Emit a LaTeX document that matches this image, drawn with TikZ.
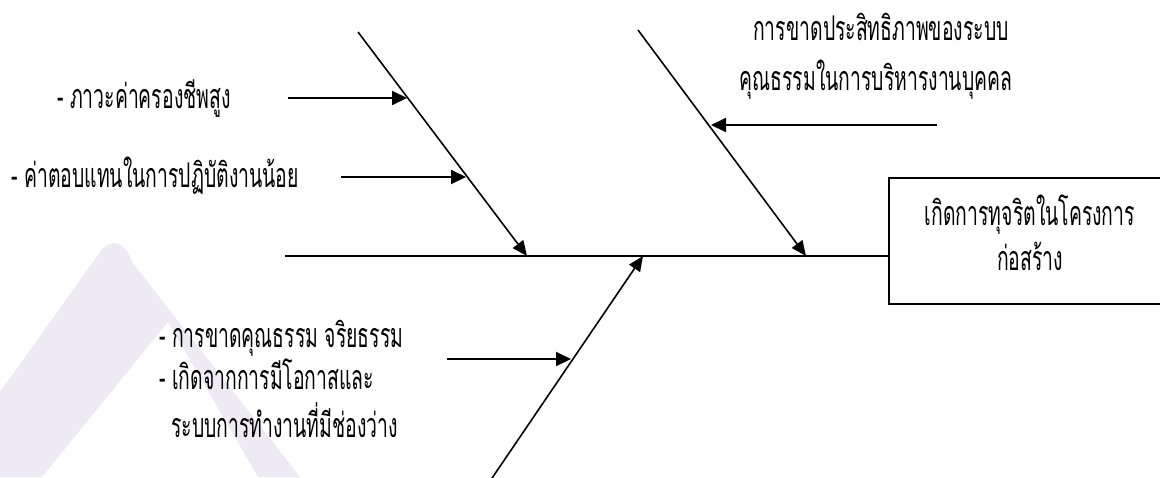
\documentclass[tikz,border=0pt]{standalone}
\usepackage{fontspec}
\newfontfamily\thaitext[Script=Thai,FakeStretch=0.57]{Loma}
\usetikzlibrary{arrows.meta}
\definecolor{wm}{RGB}{238,234,244}
\begin{document}
\begin{tikzpicture}[x=1pt,y=-1pt,
  lbl/.style={inner sep=0pt, font=\thaitext\fontsize{34}{38}\selectfont},
  bone/.style={line width=1.6pt, -{Triangle[length=15pt,width=13pt]}},
  cause/.style={line width=2pt, -{Triangle[length=15pt,width=14pt]}},
  effect/.style={draw, line width=2pt, inner sep=0pt, minimum width=284pt, minimum height=126pt, anchor=north west}
]
\useasboundingbox (0,0) rectangle (1160,477);
\clip (0,0) rectangle (1160,477);
% watermark
\fill[wm] (0,392) -- (100,252) .. controls (110,238) and (125,240) .. (132,262) -- (300,477) -- (258,477) -- (168,322) -- (42,477) -- (0,477) -- cycle;

% effect box
\node[effect] (box) at (888,177) {};
\node[lbl, anchor=base] (e1) at (1030,225) {เกิดการทุจริตในโครงการ};
\node[lbl, anchor=base] (e2) at (1030,270) {ก่อสร้าง};

% spine
\coordinate (sp) at (285,256);
\draw[line width=1.6pt] (sp) -- (sp -| box.west);

% bones
\coordinate (b1s) at (358,32);  \coordinate (b1e) at (527,256);
\coordinate (b2s) at (638,30);  \coordinate (b2e) at (806,256);
\coordinate (b3s) at (488,484); \coordinate (b3e) at (643,256);
\draw[bone] (b1s) -- (b1e);
\draw[bone] (b2s) -- (b2e);
\draw[bone] (b3s) -- (b3e);

% cause arrows
\coordinate (a1s) at (288,98);  \coordinate (a1e) at (407,98);
\coordinate (a2s) at (341,177); \coordinate (a2e) at (466,177);
\coordinate (a3s) at (937,125); \coordinate (a3e) at (711,125);
\coordinate (a4s) at (447,359); \coordinate (a4e) at (571,359);
\draw[cause] (a1s) -- (a1e);
\draw[cause] (a2s) -- (a2e);
\draw[cause] (a3s) -- (a3e);
\draw[cause] (a4s) -- (a4e);

% labels
\node[lbl, anchor=base west] (l1) at (57,108) {- ภาวะค่าครองชีพสูง};
\node[lbl, anchor=base west] (l2) at (11,187) {- ค่าตอบแทนในการปฏิบัติงานน้อย};
\node[lbl, anchor=base] (t1) at (881,40) {การขาดประสิทธิภาพของระบบ};
\node[lbl, anchor=base] (t2) at (876,90) {คุณธรรมในการบริหารงานบุคคล};
\node[lbl, anchor=base west] (m1) at (159,347) {- การขาดคุณธรรม จริยธรรม};
\node[lbl, anchor=base west] (m2) at (159,389) {- เกิดจากการมีโอกาสและ};
\node[lbl, anchor=base west] (m3) at (171,437) {ระบบการทำงานที่มีช่องว่าง};
\end{tikzpicture}
\end{document}
